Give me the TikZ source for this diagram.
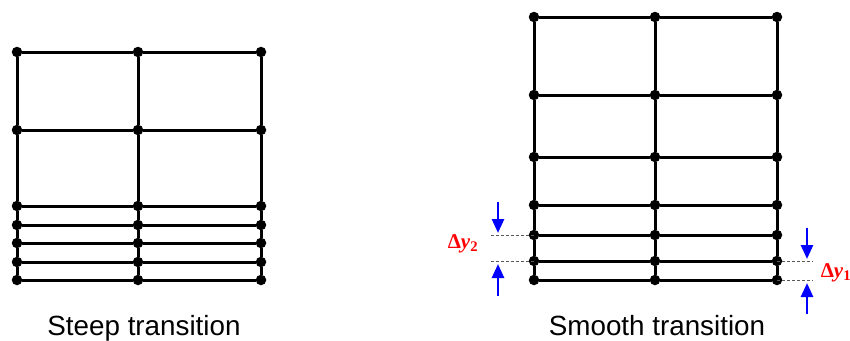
\documentclass[tikz,border=0pt]{standalone}
\usepackage{fontspec}
\setmainfont{Liberation Sans}
\newfontfamily\serifbf{Liberation Serif}
\usetikzlibrary{arrows.meta}
\begin{document}
\begin{tikzpicture}[x=1pt,y=-1pt,
  dot/.style={circle,fill=black,inner sep=0pt,minimum size=10.5pt},
  gridline/.style={line width=3pt,black},
  guide/.style={densely dashed,gray!70!black,line width=1pt},
  blarrow/.style={blue,line width=2.6pt,-{Triangle[length=14pt,width=12pt]}},
  caption/.style={font=\fontsize{27.8}{32}\selectfont,anchor=base},
  dlabel/.style={text=red,font=\serifbf\bfseries\fontsize{21}{24}\selectfont,anchor=base}]
\useasboundingbox (0,0) rectangle (850,340);
% left grid
\foreach \r/\y in {1/52,2/130,3/206,4/225,5/243,6/262,7/280}{
  \foreach \c/\x in {1/17,2/138,3/261}{
    \node[dot] (L\r\c) at (\x,\y) {};
  }
}
\foreach \r in {1,...,7}{
  \draw[gridline] (L\r1) -- (L\r2) -- (L\r3);
}
\foreach \c in {1,2,3}{
  \draw[gridline] (L1\c) -- (L2\c) -- (L3\c) -- (L4\c) -- (L5\c) -- (L6\c) -- (L7\c);
}
% right grid
\foreach \r/\y in {1/17,2/95,3/157,4/205,5/235,6/261,7/280}{
  \foreach \c/\x in {1/534,2/655,3/777}{
    \node[dot] (R\r\c) at (\x,\y) {};
  }
}
\foreach \r in {1,...,7}{
  \draw[gridline] (R\r1) -- (R\r2) -- (R\r3);
}
\foreach \c in {1,2,3}{
  \draw[gridline] (R1\c) -- (R2\c) -- (R3\c) -- (R4\c) -- (R5\c) -- (R6\c) -- (R7\c);
}
% dy2 markers
\coordinate (g2a) at (491,235);
\coordinate (g2b) at (491,261);
\draw[guide] (g2a) -- (R51.center);
\draw[guide] (g2b) -- (R61.center);
\coordinate (a2s) at (498,202);
\coordinate (a2e) at (498,233);
\coordinate (b2s) at (498,296);
\coordinate (b2e) at (498,264);
\draw[blarrow] (a2s) -- (a2e);
\draw[blarrow] (b2s) -- (b2e);
\node[dlabel] (dy2) at (463,248) {Δ\textit{y}\textsubscript{2}};
% dy1 markers
\coordinate (g1a) at (813,261);
\coordinate (g1b) at (813,280);
\draw[guide] (R63.center) -- (g1a);
\draw[guide] (R73.center) -- (g1b);
\coordinate (a1s) at (807,228);
\coordinate (a1e) at (807,259);
\coordinate (b1s) at (807,314);
\coordinate (b1e) at (807,283);
\draw[blarrow] (a1s) -- (a1e);
\draw[blarrow] (b1s) -- (b1e);
\node[dlabel] (dy1) at (836,277) {Δ\textit{y}\textsubscript{1}};
% captions
\node[caption] (capL) at (144,335) {Steep transition};
\node[caption] (capR) at (657,335) {Smooth transition};
\end{tikzpicture}
\end{document}
